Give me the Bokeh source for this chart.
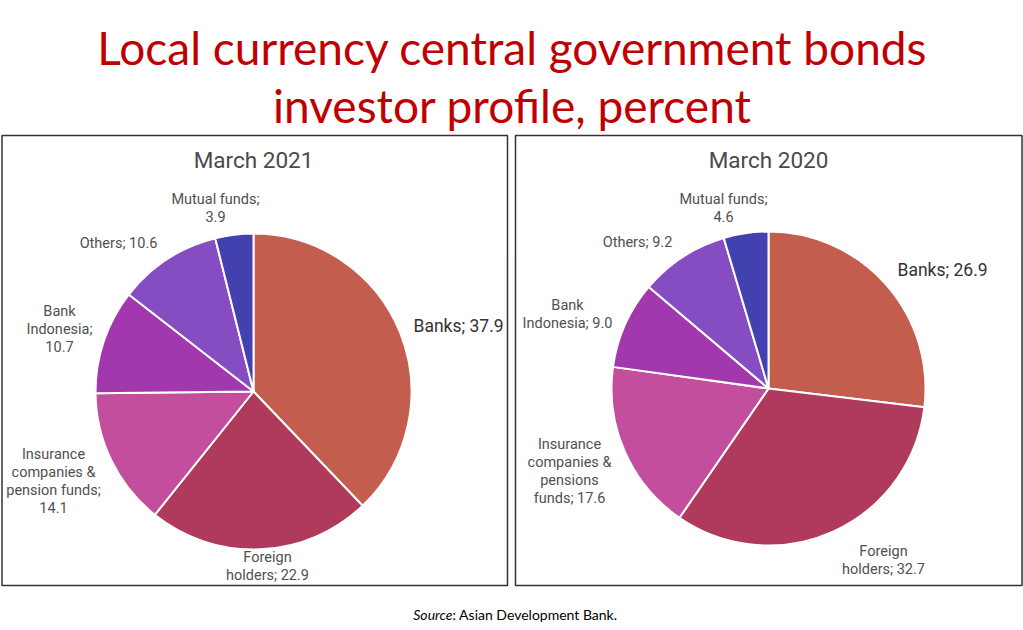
import numpy as np
from bokeh.plotting import figure
from bokeh.models import Range1d, ColumnDataSource
from bokeh.core.properties import value
from bokeh.embed import file_html
from bokeh.resources import INLINE

# ---- data ----
categories = ["Banks", "Foreign holders", "Insurance companies & pension funds",
              "Bank Indonesia", "Others", "Mutual funds"]
values_2021 = [37.9, 22.9, 14.1, 10.7, 10.6, 3.9]
values_2020 = [26.9, 32.7, 17.6, 9.0, 9.2, 4.6]
labels_2021 = ["Banks; 37.9", "Foreign\nholders; 22.9", "Insurance\ncompanies &\npension funds;\n14.1",
               "Bank\nIndonesia;\n10.7", "Others; 10.6", "Mutual funds;\n3.9"]
labels_2020 = ["Banks; 26.9", "Foreign\nholders; 32.7", "Insurance\ncompanies &\npensions\nfunds; 17.6",
               "Bank\nIndonesia; 9.0", "Others; 9.2", "Mutual funds;\n4.6"]
panel_titles = ["March 2021", "March 2020"]
colors = ["#C35E4E", "#B03A5B", "#C24E9D", "#A238AD", "#854DC1", "#4340B0"]

# ---- layout (reference pixel coords, y measured from top) ----
W, H = 1023, 630
def Y(y):
    return H - y

p = figure(width=W, height=H, x_range=Range1d(0, W), y_range=Range1d(0, H),
           min_border=0, toolbar_location=None, output_backend="svg",
           x_axis_location=None, y_axis_location=None)
p.grid.visible = False
p.outline_line_color = None
p.background_fill_color = "white"

# main title
p.text(x=[512, 512], y=[Y(47), Y(105)],
       text=["Local currency central government bonds", "investor profile, percent"],
       text_font=value("Lato"), text_font_size="46px", text_color="#C00000",
       text_align="center", text_baseline="middle")

# panel borders
p.quad(left=[1.5, 515], right=[507, 1021.5], bottom=[Y(585), Y(585)], top=[Y(135), Y(135)],
       fill_color=None, line_color="#333333", line_width=1.5)

panels = [
    dict(vals=values_2021, labels=labels_2021, cx=253, cy=391, r=158, tx=253,
         lpos=[(413, 325, "left"), (267, 566, "center"), (53, 481, "center"),
               (59, 329, "center"), (118, 243, "center"), (215, 208, "center")]),
    dict(vals=values_2020, labels=labels_2020, cx=768, cy=388, r=157, tx=768,
         lpos=[(897, 269, "left"), (883, 560, "center"), (569, 471, "center"),
               (567, 314, "center"), (637, 242, "center"), (723, 208, "center")]),
]

for i, pn in enumerate(panels):
    v = np.array(pn["vals"], dtype=float)
    frac = v / v.sum()
    cum_end = np.cumsum(frac)
    cum_start = cum_end - frac
    src = ColumnDataSource(dict(
        start=np.pi / 2 - 2 * np.pi * cum_end,
        end=np.pi / 2 - 2 * np.pi * cum_start,
        color=colors, cat=categories, val=pn["vals"]))
    p.wedge(x=pn["cx"], y=Y(pn["cy"]), radius=pn["r"], start_angle="start", end_angle="end",
            fill_color="color", line_color="white", line_width=2, source=src)
    # panel title
    p.text(x=[pn["tx"]], y=[Y(159)], text=[panel_titles[i]], text_font=value("Roboto"),
           text_font_size="22.5px", text_color="#4a4a4a", text_align="center",
           text_baseline="middle")
    for j, (lx, ly, al) in enumerate(pn["lpos"]):
        big = (j == 0)
        p.text(x=[lx], y=[Y(ly)], text=[pn["labels"][j]], text_font=value("Roboto"),
               text_font_size="17.5px" if big else "14.5px",
               text_color="#333333" if big else "#505050",
               text_align=al, text_baseline="middle", text_line_height=1.05)

# source note
p.text(x=[452], y=[Y(614)], text=["Source"], text_font=value("Lato"), text_font_size="14px",
       text_font_style="italic", text_color="#000000", text_align="right", text_baseline="middle")
p.text(x=[452], y=[Y(614)], text=[": Asian Development Bank."], text_font=value("Lato"),
       text_font_size="14px", text_color="#000000", text_align="left", text_baseline="middle")

open("out.html", "w").write(file_html(p, INLINE))
